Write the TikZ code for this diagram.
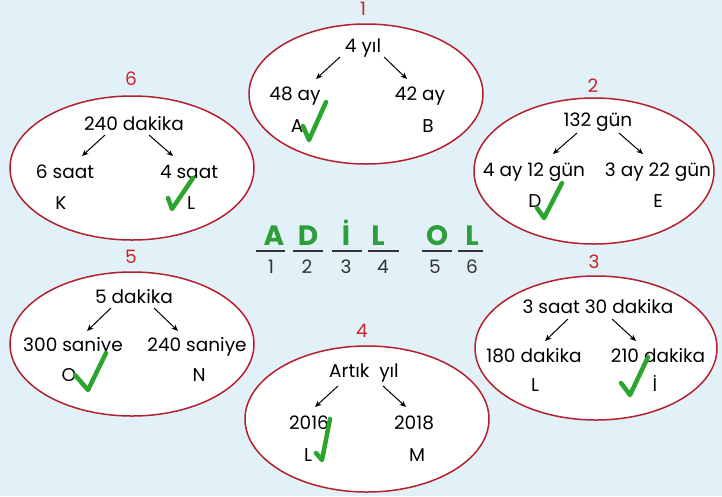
\documentclass[tikz,border=0pt]{standalone}
\usepackage{fontspec}
\setmainfont{Poppins}
\usetikzlibrary{shapes.geometric,arrows.meta}
\definecolor{bg}{HTML}{E2F0F8}
\definecolor{ered}{HTML}{B3202E}
\definecolor{nred}{HTML}{C62828}
\definecolor{ckgreen}{HTML}{2BA52E}
\definecolor{letgreen}{HTML}{2E9E3A}
\definecolor{dgrey}{HTML}{333333}
\begin{document}
\begin{tikzpicture}[x=1pt,y=-1pt,
 oval/.style={ellipse,draw=ered,fill=white,line width=1.5pt,inner sep=0pt},
 lbl/.style={font=\fontsize{18.5}{20}\selectfont,text=black,inner sep=0pt,anchor=base},
 num/.style={font=\fontsize{18.5}{20}\selectfont,text=nred,inner sep=0pt,anchor=base},
 arr/.style={-{Stealth[length=6.5pt,width=5.5pt]},line width=1pt},
 chk/.style={draw=ckgreen,line width=4.5pt,line cap=round,line join=round},
 big/.style={font=\fontsize{28}{30}\selectfont\bfseries,text=letgreen,inner sep=0pt,anchor=base},
 sub/.style={font=\fontsize{18.5}{20}\selectfont,text=dgrey,inner sep=0pt,anchor=base},
 bar/.style={draw=dgrey,line width=1.5pt}]
\fill[bg] (0,0) rectangle (722,496);
\useasboundingbox (0,0) rectangle (722,496);

% ellipses
\node[oval,minimum width=234pt,minimum height=140pt] (e1) at (366,94) {};
\node[oval,minimum width=240pt,minimum height=146pt] (e2) at (594,171) {};
\node[oval,minimum width=242pt,minimum height=144pt] (e3) at (596,348) {};
\node[oval,minimum width=244pt,minimum height=146pt] (e4) at (367,419) {};
\node[oval,minimum width=244pt,minimum height=144pt] (e5) at (132,344) {};
\node[oval,minimum width=244pt,minimum height=144pt] (e6) at (132,168) {};

% red numbers
\node[num] (n1) at (363,15) {1};
\node[num] (n2) at (593,92) {2};
\node[num] (n3) at (594,268) {3};
\node[num] (n4) at (362,337) {4};
\node[num] (n5) at (131,263) {5};
\node[num] (n6) at (131,85) {6};

% ellipse 1
\node[lbl] (t1) at (363,52) {4 yıl};
\node[lbl] (l1) at (295,100) {48 ay};
\node[lbl] (r1) at (420,100) {42 ay};
\node[lbl] (a1) at (297,132) {A};
\node[lbl] (b1) at (428,132) {B};
\coordinate (p1s) at (340,57); \coordinate (p1e) at (316,79);
\coordinate (q1s) at (384,57); \coordinate (q1e) at (407,79);
\draw[arr] (p1s) -- (p1e);
\draw[arr] (q1s) -- (q1e);

% ellipse 6
\node[lbl] (t6) at (134,130) {240 dakika};
\node[lbl] (l6) at (65,178) {6 saat};
\node[lbl] (r6) at (189,178) {4 saat};
\node[lbl] (a6) at (61,209) {K};
\node[lbl] (b6) at (191,209) {L};
\coordinate (p6s) at (105,135); \coordinate (p6e) at (82,156);
\coordinate (q6s) at (149,135); \coordinate (q6e) at (173,156);
\draw[arr] (p6s) -- (p6e);
\draw[arr] (q6s) -- (q6e);

% ellipse 2
\node[lbl] (t2) at (598,126) {132 gün};
\node[lbl] (l2) at (534,176) {4 ay 12 gün};
\node[lbl] (r2) at (658,176) {3 ay 22 gün};
\node[lbl] (a2) at (535,207) {D};
\node[lbl] (b2) at (658,207) {E};
\coordinate (p2s) at (577,133); \coordinate (p2e) at (553,154);
\coordinate (q2s) at (619,133); \coordinate (q2e) at (643,154);
\draw[arr] (p2s) -- (p2e);
\draw[arr] (q2s) -- (q2e);

% ellipse 5
\node[lbl] (t5) at (134,303) {5 dakika};
\node[lbl] (l5) at (73,351) {300 saniye};
\node[lbl] (r5) at (197,351) {240 saniye};
\node[lbl] (a5) at (69,381) {O};
\node[lbl] (b5) at (199,381) {N};
\coordinate (p5s) at (111,308); \coordinate (p5e) at (87,331);
\coordinate (q5s) at (154,308); \coordinate (q5e) at (178,331);
\draw[arr] (p5s) -- (p5e);
\draw[arr] (q5s) -- (q5e);

% ellipse 3
\node[lbl] (t3) at (598,313) {3 saat 30 dakika};
\node[lbl] (l3) at (534,362) {180 dakika};
\node[lbl] (r3) at (658,362) {210 dakika};
\node[lbl] (a3) at (535,391) {L};
\node[lbl] (b3) at (655,391) {İ};
\coordinate (p3s) at (568,319); \coordinate (p3e) at (545,341);
\coordinate (q3s) at (612,319); \coordinate (q3e) at (636,341);
\draw[arr] (p3s) -- (p3e);
\draw[arr] (q3s) -- (q3e);

% ellipse 4
\node[lbl] (t4) at (364,377) {Artık\ \ yıl};
\node[lbl] (l4) at (309,429) {2016};
\node[lbl] (r4) at (414,429) {2018};
\node[lbl] (a4) at (308,461) {L};
\node[lbl] (b4) at (417,461) {M};
\coordinate (p4s) at (338,386); \coordinate (p4e) at (315,407);
\coordinate (q4s) at (383,386); \coordinate (q4e) at (406,407);
\draw[arr] (p4s) -- (p4e);
\draw[arr] (q4s) -- (q4e);

% check marks
\draw[chk] (303,126) -- (309,140) -- (326,102);
\draw[chk] (168,198) -- (172,209) -- (193,178);
\draw[chk] (537,208) -- (544,218) -- (562,183);
\draw[chk] (75,375) -- (88,390) -- (106,353);
\draw[chk] (621,383) -- (630,395) -- (648,357);
\draw[chk] (316,453) -- (322,460) -- (330,419);

% answer word
\node[big] (w1) at (274,245) {A};
\node[big] (w2) at (308,245) {D};
\node[big] (w3) at (346,245) {İ};
\node[big] (w4) at (378,245) {L};
\node[big] (w5) at (437,245) {O};
\node[big] (w6) at (472,245) {L};
\draw[bar] (256,251) -- (285,251);
\draw[bar] (293,251) -- (323,251);
\draw[bar] (332,251) -- (362,251);
\draw[bar] (368,251) -- (399,251);
\draw[bar] (422,251) -- (452,251);
\draw[bar] (458,251) -- (483,251);
\node[sub] (s1) at (271,273) {1};
\node[sub] (s2) at (307,273) {2};
\node[sub] (s3) at (346,273) {3};
\node[sub] (s4) at (383,273) {4};
\node[sub] (s5) at (435,273) {5};
\node[sub] (s6) at (472,273) {6};
\end{tikzpicture}
\end{document}
